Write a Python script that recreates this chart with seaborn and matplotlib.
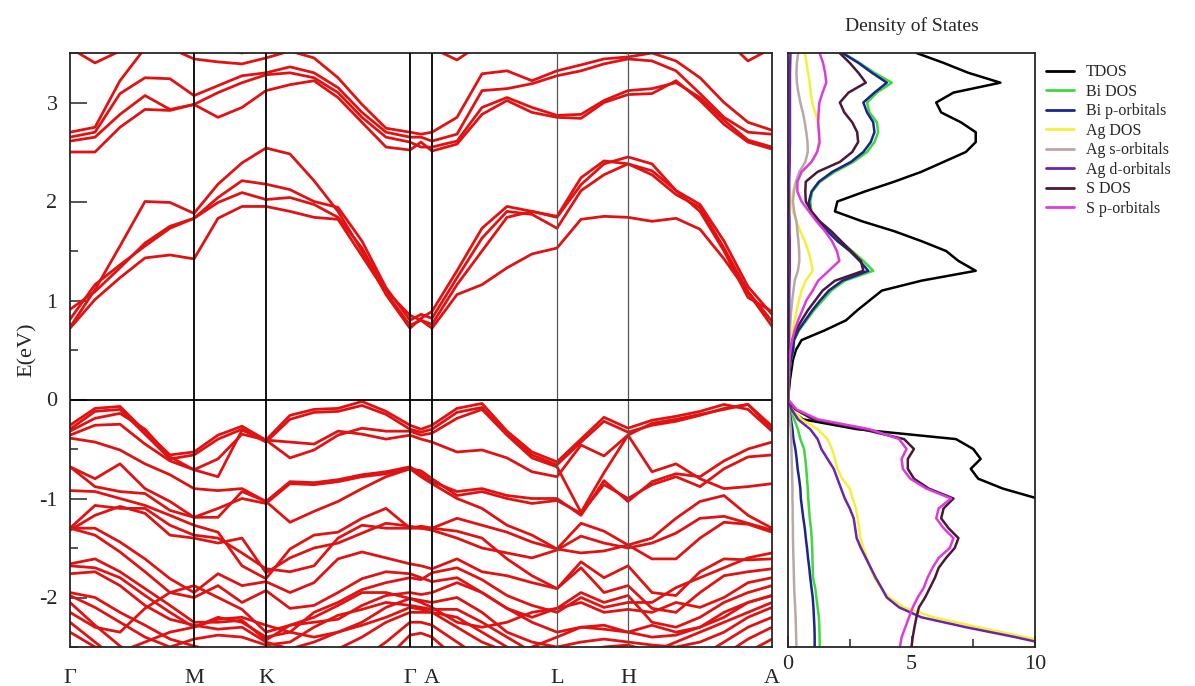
import numpy as np
import pandas as pd
import matplotlib
matplotlib.use("Agg")
import matplotlib.pyplot as plt
from matplotlib.ticker import MultipleLocator
import seaborn as sns

# ---------------- band structure data ----------------
# k-path sample nodes (path length) and high-symmetry points
k_nodes = [0.00, 0.25, 0.50, 0.75, 1.00, 1.24, 1.48, 1.72, 1.96, 2.20, 2.44,
           2.68, 2.92, 3.16, 3.40, 3.51, 3.62, 3.87, 4.12, 4.37, 4.62, 4.87,
           5.11, 5.34, 5.58, 5.82, 6.06, 6.30, 6.54, 6.78, 7.02]
sym_k = [0.00, 1.24, 1.96, 3.40, 3.62, 4.87, 5.58, 7.02]
sym_labels = ["Γ", "M", "K", "Γ", "A", "L", "H", "A"]

# conduction bands (eV)
c1 = [0.72, 1.01, 1.23, 1.43, 1.46, 1.42, 1.83, 1.95, 1.95, 1.90, 1.84, 1.82, 1.45, 1.08, 0.75, 0.80,
      0.72, 1.06, 1.16, 1.33, 1.47, 1.53, 1.82, 1.85, 1.84, 1.80, 1.83, 1.72, 1.42, 1.08, 0.74]
c2 = [0.81, 1.16, 1.36, 1.55, 1.73, 1.83, 1.99, 2.09, 2.02, 2.04, 1.97, 1.84, 1.53, 1.10, 0.85, 0.80,
      0.76, 1.16, 1.50, 1.84, 1.90, 1.84, 2.17, 2.38, 2.45, 2.38, 2.11, 1.97, 1.60, 1.14, 0.86]
c3 = [0.91, 1.09, 1.33, 1.58, 1.75, 1.83, 2.04, 2.21, 2.175, 2.12, 2.00, 1.94, 1.60, 1.13, 0.80, 0.86,
      0.82, 1.23, 1.63, 1.90, 1.87, 1.73, 2.11, 2.27, 2.38, 2.27, 2.07, 1.94, 1.53, 1.09, 0.79]
c4 = [0.73, 1.11, 1.55, 2.00, 1.99, 1.88, 2.175, 2.39, 2.54, 2.48, 2.21, 1.90, 1.50, 1.06, 0.72, 0.82,
      0.89, 1.30, 1.73, 1.95, 1.90, 1.85, 2.24, 2.41, 2.38, 2.31, 2.11, 1.90, 1.50, 1.03, 0.89]
u1 = [2.50, 2.50, 2.75, 2.93, 2.92, 2.98, 2.85, 2.95, 3.12, 3.18, 3.22, 3.05, 2.80, 2.55, 2.52, 2.60,
      2.51, 2.58, 2.88, 3.02, 2.90, 2.85, 2.84, 3.00, 3.08, 3.09, 3.22, 3.02, 2.78, 2.60, 2.53]
u2 = [2.61, 2.65, 2.88, 3.07, 2.93, 2.98, 3.10, 3.20, 3.28, 3.30, 3.25, 3.10, 2.85, 2.65, 2.60, 2.55,
      2.55, 2.61, 2.95, 3.05, 2.95, 2.87, 2.88, 3.02, 3.12, 3.14, 3.20, 3.05, 2.82, 2.62, 2.55]
u3 = [2.65, 2.70, 3.09, 3.25, 3.24, 3.07, 3.17, 3.27, 3.30, 3.36, 3.30, 3.15, 2.90, 2.70, 2.65, 2.65,
      2.61, 2.68, 3.12, 3.14, 3.19, 3.27, 3.32, 3.39, 3.44, 3.42, 3.32, 3.09, 2.85, 2.70, 2.68]
u4 = [2.70, 2.75, 3.22, 3.55, 3.55, 3.44, 3.41, 3.39, 3.45, 3.52, 3.45, 3.25, 2.98, 2.74, 2.70, 2.68,
      2.70, 2.85, 3.29, 3.32, 3.22, 3.32, 3.38, 3.44, 3.46, 3.50, 3.42, 3.25, 3.00, 2.80, 2.72]
u5 = [3.55, 3.40, 3.52, 3.70, 3.70, 3.60, 3.55, 3.50, 3.55, 3.65, 3.70, 3.70, 3.70, 3.70, 3.70, 3.70,
      3.55, 3.43, 3.60, 3.70, 3.70, 3.60, 3.55, 3.52, 3.50, 3.55, 3.65, 3.70, 3.65, 3.42, 3.55]

# valence bands (eV)
v1 = [-0.26, -0.09, -0.07, -0.32, -0.56, -0.53, -0.36, -0.27, -0.41, -0.16, -0.10, -0.09, -0.02, -0.12, -0.26, -0.30,
      -0.26, -0.09, -0.04, -0.32, -0.53, -0.63, -0.40, -0.18, -0.29, -0.21, -0.17, -0.12, -0.05, -0.10, -0.32]
v1b = [-0.30, -0.12, -0.10, -0.35, -0.60, -0.56, -0.40, -0.30, -0.43, -0.20, -0.13, -0.12, -0.06, -0.15, -0.30, -0.33,
       -0.30, -0.13, -0.08, -0.35, -0.56, -0.66, -0.43, -0.22, -0.33, -0.26, -0.22, -0.16, -0.09, -0.05, -0.27]
v2 = [-0.32, -0.19, -0.14, -0.30, -0.58, -0.71, -0.78, -0.31, -0.41, -0.59, -0.51, -0.36, -0.29, -0.32, -0.32, -0.36,
      -0.34, -0.19, -0.10, -0.36, -0.59, -0.68, -1.14, -0.74, -0.36, -0.24, -0.20, -0.15, -0.10, -0.05, -0.30]
v2c = [-0.36, -0.26, -0.25, -0.45, -0.62, -0.71, -0.60, -0.35, -0.41, -0.43, -0.45, -0.32, -0.35, -0.40, -0.36, -0.40,
       -0.43, -0.53, -0.51, -0.59, -0.73, -0.78, -0.46, -0.57, -0.36, -0.73, -0.65, -0.80, -0.90, -0.88, -0.85]
v3 = [-0.39, -0.43, -0.51, -0.65, -0.76, -0.90, -0.92, -0.90, -1.03, -0.83, -0.84, -0.81, -0.76, -0.73, -0.68, -0.75,
      -0.83, -0.93, -0.90, -0.97, -1.00, -1.00, -1.17, -0.82, -1.03, -0.83, -0.75, -0.78, -0.62, -0.50, -0.43]
v3b = [-0.68, -0.88, -0.93, -0.95, -1.12, -1.19, -1.10, -1.00, -1.05, -0.85, -0.86, -0.83, -0.78, -0.75, -0.70, -0.72,
       -0.80, -0.97, -0.93, -1.00, -1.05, -1.02, -1.15, -0.86, -1.00, -0.86, -0.78, -0.88, -0.70, -0.58, -0.56]
v4 = [-0.68, -0.80, -0.65, -0.90, -1.03, -1.19, -1.19, -0.93, -1.03, -1.24, -1.13, -1.03, -0.90, -0.78, -0.70, -0.78,
      -0.85, -1.00, -1.10, -1.27, -1.37, -1.51, -1.25, -1.33, -1.47, -1.40, -1.20, -1.03, -0.97, -1.17, -1.30]
v5 = [-0.92, -0.93, -1.00, -1.07, -1.17, -1.27, -1.34, -1.68, -1.81, -1.51, -1.37, -1.34, -1.20, -1.10, -1.30, -1.30,
      -1.30, -1.20, -1.27, -1.34, -1.44, -1.51, -1.55, -1.53, -1.47, -1.61, -1.61, -1.40, -1.24, -1.26, -1.34]
v5b = [-1.32, -1.17, -1.08, -1.15, -1.37, -1.40, -1.45, -1.40, -1.75, -1.60, -1.50, -1.45, -1.35, -1.25, -1.28, -1.30,
       -1.32, -1.40, -1.50, -1.55, -1.60, -1.52, -1.38, -1.45, -1.50, -1.45, -1.35, -1.20, -1.18, -1.25, -1.32]
v6 = [-1.30, -1.07, -1.10, -1.10, -1.27, -1.37, -1.40, -1.55, -1.71, -1.74, -1.68, -1.40, -1.27, -1.30, -1.30, -1.28,
      -1.30, -1.33, -1.40, -1.61, -1.78, -1.91, -1.64, -1.80, -1.68, -1.95, -1.98, -1.74, -1.61, -1.62, -1.61]
v7 = [-1.30, -1.30, -1.44, -1.61, -1.81, -1.95, -1.76, -1.88, -1.84, -1.95, -1.85, -1.61, -1.54, -1.60, -1.66, -1.68,
      -1.71, -1.61, -1.74, -1.78, -1.85, -1.91, -1.70, -1.95, -1.88, -2.11, -2.15, -1.95, -1.78, -1.74, -1.71]
v7b = [-1.68, -1.70, -1.80, -1.98, -2.15, -2.30, -2.20, -2.25, -2.40, -2.35, -2.15, -2.05, -1.92, -1.85, -1.80, -1.82,
       -1.75, -1.70, -1.82, -1.98, -2.08, -2.15, -2.00, -2.10, -2.05, -2.05, -1.90, -1.80, -1.70, -1.60, -1.55]
v8 = [-1.30, -1.37, -1.54, -1.74, -1.95, -2.00, -1.88, -2.05, -1.93, -2.11, -2.08, -1.95, -1.81, -1.74, -1.76, -1.80,
      -1.84, -1.80, -1.95, -2.11, -2.20, -2.11, -1.95, -2.05, -1.98, -2.25, -2.30, -2.20, -2.05, -1.95, -1.88]
v9 = [-1.66, -1.61, -1.74, -1.91, -2.08, -2.25, -2.25, -2.23, -2.43, -2.28, -2.25, -2.22, -2.08, -1.98, -1.95, -1.97,
      -1.95, -1.85, -1.95, -2.11, -2.25, -2.35, -2.30, -2.32, -2.35, -2.28, -2.35, -2.30, -2.15, -2.05, -1.98]
v9b = [-1.98, -2.10, -2.25, -2.40, -2.50, -2.42, -2.38, -2.40, -2.48, -2.45, -2.30, -2.18, -2.12, -2.05, -2.08, -2.10,
       -2.12, -2.12, -2.25, -2.40, -2.55, -2.58, -2.55, -2.50, -2.48, -2.55, -2.45, -2.35, -2.25, -2.15, -2.05]
v10 = [-1.76, -1.74, -1.88, -2.08, -2.22, -2.28, -2.32, -2.30, -2.45, -2.52, -2.45, -2.35, -2.25, -2.10, -2.01, -2.03,
       -2.05, -2.00, -2.15, -2.35, -2.45, -2.50, -2.45, -2.42, -2.45, -2.48, -2.50, -2.45, -2.35, -2.20, -2.10]
v11 = [-1.95, -2.00, -2.15, -2.28, -2.42, -2.49, -2.55, -2.58, -2.60, -2.60, -2.58, -2.52, -2.40, -2.25, -2.15, -2.15,
       -2.15, -2.20, -2.35, -2.50, -2.60, -2.62, -2.62, -2.62, -2.62, -2.62, -2.62, -2.60, -2.45, -2.30, -2.20]
v12 = [-2.05, -2.28, -2.49, -2.65, -2.70, -2.70, -2.70, -2.70, -2.70, -2.70, -2.70, -2.70, -2.62, -2.45, -2.25, -2.25,
       -2.28, -2.45, -2.62, -2.70, -2.70, -2.70, -2.70, -2.70, -2.70, -2.70, -2.70, -2.68, -2.58, -2.42, -2.30]
v13 = [-2.25, -2.45, -2.65, -2.75, -2.75, -2.75, -2.75, -2.75, -2.75, -2.75, -2.75, -2.75, -2.75, -2.62, -2.38, -2.36,
       -2.40, -2.62, -2.75, -2.75, -2.75, -2.75, -2.75, -2.75, -2.75, -2.75, -2.75, -2.75, -2.70, -2.55, -2.42]
v14 = [-2.15, -2.30, -2.35, -2.11, -1.95, -1.88, -2.00, -2.12, -2.35, -2.28, -2.20, -2.08, -1.95, -1.95, -2.01, -2.05,
       -2.10, -2.25, -2.30, -2.25, -2.15, -2.11, -2.05, -2.15, -2.12, -2.15, -2.05, -2.10, -2.00, -1.85, -1.80]
v15 = [-2.35, -2.50, -2.55, -2.45, -2.35, -2.30, -2.22, -2.20, -2.28, -2.35, -2.40, -2.35, -2.28, -2.20, -2.10, -2.12,
       -2.15, -2.30, -2.45, -2.55, -2.50, -2.40, -2.30, -2.28, -2.35, -2.40, -2.38, -2.30, -2.20, -2.05, -1.98]

bands = [c1, c2, c3, c4, u1, u2, u3, u4, u5,
         v1, v1b, v2, v2c, v3, v3b, v4, v5, v5b, v6, v7, v7b, v8, v9, v9b,
         v10, v11, v12, v13, v14, v15]

# ---------------- density of states data ----------------
dos_energy = np.round(np.linspace(3.5, -2.5, 61), 2)
dos_names = ["TDOS", "Bi DOS", "Bi p-orbitals", "Ag DOS", "Ag s-orbitals",
             "Ag d-orbitals", "S DOS", "S p-orbitals"]
dos_colors = ["#000000", "#3cd83c", "#1c2490", "#f4f03a", "#b9a8a6",
              "#6c24a8", "#4a1838", "#dc3cdc"]

tdos = [5.2, 6.3, 7.3, 8.6, 6.7, 6.0, 6.2, 7.0, 7.6, 7.6, 7.2, 6.3, 5.4, 4.3, 3.1, 2.0, 1.9, 3.0,
        4.3, 5.4, 6.4, 6.9, 7.6, 5.4, 3.8, 3.3, 2.8, 2.35, 1.5, 0.55, 0.32, 0.2, 0.14, 0.08, 0.04, 0.0,
        0.1, 0.6, 2.8, 6.8, 7.5, 7.8, 7.4, 7.7, 8.7, 10.1] + [np.nan] * 15
bi_dos = [2.23, 2.9, 3.5, 4.2, 3.6, 3.2, 3.3, 3.6, 3.65, 3.5, 3.2, 2.65, 1.9, 1.3, 0.98, 0.9, 0.95, 1.28,
          1.7, 2.09, 2.6, 3.05, 3.45, 2.3, 1.75, 1.4, 1.05, 0.75, 0.45, 0.25, 0.22, 0.12, 0.07, 0.04, 0.02, 0.0,
          0.05, 0.25, 0.4, 0.5, 0.65, 0.7, 0.74, 0.77, 0.8, 0.82, 0.85, 0.88, 0.93, 0.96, 0.98, 0.99, 1.0,
          1.01, 1.1, 1.15, 1.2, 1.25, 1.27, 1.28, 1.28]
bi_p = [2.2, 2.85, 3.4, 4.0, 3.5, 3.05, 3.2, 3.45, 3.5, 3.35, 3.05, 2.55, 1.8, 1.25, 0.95, 0.85, 0.9, 1.2,
        1.6, 2.0, 2.5, 2.9, 3.25, 2.2, 1.65, 1.3, 0.98, 0.7, 0.42, 0.24, 0.2, 0.11, 0.06, 0.03, 0.02, 0.0,
        0.03, 0.12, 0.18, 0.22, 0.3, 0.35, 0.39, 0.45, 0.5, 0.52, 0.57, 0.62, 0.68, 0.72, 0.77, 0.81, 0.86,
        0.9, 0.95, 1.0, 1.03, 1.05, 1.07, 1.08, 1.08]
ag_dos = [0.68, 0.75, 0.81, 0.88, 0.92, 0.98, 1.1, 1.22, 1.27, 1.25, 1.18, 0.95, 0.58, 0.32, 0.2, 0.15, 0.2,
          0.34, 0.5, 0.68, 0.82, 0.93, 1.0, 0.72, 0.55, 0.44, 0.35, 0.27, 0.19, 0.13, 0.08, 0.05, 0.03, 0.02,
          0.01, 0.0,
          0.2, 0.55, 1.2, 1.6, 1.78, 1.9, 2.0, 2.2, 2.5, 2.62, 2.75, 2.82, 2.88, 2.93, 3.05, 3.2, 3.33, 3.5,
          3.75, 4.1, 4.7, 5.9, 7.7, 9.6, 11.5]
ag_s = [0.41, 0.36, 0.34, 0.36, 0.42, 0.5, 0.6, 0.68, 0.74, 0.79, 0.8, 0.7, 0.46, 0.32, 0.24, 0.2, 0.25,
        0.34, 0.38, 0.42, 0.45, 0.46, 0.4, 0.27, 0.22, 0.17, 0.13, 0.1, 0.08, 0.06, 0.04, 0.03, 0.02, 0.01,
        0.0, 0.0,
        0.03, 0.08, 0.11, 0.13, 0.14, 0.15, 0.16, 0.17, 0.18, 0.18, 0.19, 0.19, 0.2, 0.2, 0.21, 0.22, 0.23,
        0.24, 0.25, 0.27, 0.29, 0.31, 0.32, 0.33, 0.34]
ag_d = [0.1, 0.09, 0.08, 0.08, 0.08, 0.08, 0.08, 0.08, 0.08, 0.08, 0.07, 0.07, 0.06, 0.05, 0.05, 0.05, 0.05,
        0.06, 0.06, 0.07, 0.07, 0.07, 0.07, 0.06, 0.05, 0.05, 0.04, 0.04, 0.03, 0.03, 0.02, 0.02, 0.01, 0.01,
        0.0, 0.0,
        0.15, 0.4, 0.9, 1.2, 1.35, 1.6, 1.85, 2.0, 2.15, 2.3, 2.5, 2.66, 2.72, 2.78, 2.95, 3.15, 3.35, 3.55,
        3.78, 4.0, 4.5, 5.4, 7.2, 9.2, 11.0]
s_dos = [2.09, 2.5, 2.85, 3.15, 2.45, 2.1, 2.28, 2.6, 2.8, 2.84, 2.6, 2.1, 1.2, 0.72, 0.7, 0.72, 0.95,
         1.28, 1.75, 2.15, 2.55, 2.95, 3.05, 1.9, 1.4, 1.1, 0.8, 0.55, 0.32, 0.18, 0.1, 0.06, 0.04, 0.02,
         0.01, 0.0,
         0.3, 1.0, 3.0, 4.7, 5.1, 4.85, 4.85, 5.1, 5.7, 6.7, 6.3, 6.2, 6.5, 6.9, 6.75, 6.4, 6.1, 5.95, 5.75,
         5.55, 5.3, 5.2, 5.12, 5.05, 5.0]
s_p = [1.28, 1.42, 1.5, 1.55, 1.4, 1.27, 1.24, 1.22, 1.25, 1.28, 1.18, 0.95, 0.55, 0.38, 0.38, 0.55, 0.85,
       1.15, 1.5, 1.78, 1.98, 2.08, 1.65, 1.22, 1.0, 0.74, 0.58, 0.41, 0.27, 0.17, 0.1, 0.06, 0.04, 0.02,
       0.01, 0.0,
       0.35, 1.2, 3.3, 4.5, 4.8, 4.6, 4.65, 4.95, 5.6, 6.6, 6.1, 6.0, 6.3, 6.7, 6.55, 6.1, 5.85, 5.65, 5.5,
       5.25, 5.05, 4.9, 4.75, 4.6, 4.53]

dos_series = [tdos, bi_dos, bi_p, ag_dos, ag_s, ag_d, s_dos, s_p]

# ---------------- tidy frames ----------------
band_df = pd.DataFrame(
    [(i, k, e) for i, vals in enumerate(bands) for k, e in zip(k_nodes, vals)],
    columns=["band", "k", "E"])
dos_df = pd.DataFrame(
    [(name, e, d) for name, vals in zip(dos_names, dos_series)
     for e, d in zip(dos_energy, vals)],
    columns=["orbital", "E", "dos"]).dropna()

# ---------------- styling ----------------
sns.set_style("ticks")
plt.rcParams["font.family"] = ["Liberation Serif", "DejaVu Serif"]
plt.rcParams["axes.unicode_minus"] = False

W, H = 1195, 686
fig = plt.figure(figsize=(W / 100, H / 100), dpi=100)
ax_b = fig.add_axes([70 / W, 39 / H, 702 / W, 594 / H])
ax_d = fig.add_axes([788 / W, 39 / H, 247 / W, 594 / H])

# band structure
sns.lineplot(data=band_df, x="k", y="E", units="band", estimator=None, sort=False,
             color="#e01212", linewidth=2.0, legend=False, ax=ax_b)
for kx, lab in zip(sym_k[1:-1], sym_labels[1:-1]):
    light = lab in ("L", "H")
    ax_b.axvline(kx, color="#555555" if light else "black",
                 lw=0.9 if light else 1.3, zorder=3)
ax_b.axhline(0.0, color="black", lw=1.3, zorder=3)
ax_b.set_xlim(sym_k[0], sym_k[-1])
ax_b.set_ylim(-2.5, 3.5)
ax_b.set_xticks(sym_k)
ax_b.set_xticklabels(sym_labels, fontsize=16)
ax_b.tick_params(axis="x", length=0, pad=16)
ax_b.yaxis.set_major_locator(MultipleLocator(1))
ax_b.yaxis.set_minor_locator(MultipleLocator(0.5))
ax_b.tick_params(axis="y", which="major", direction="in", length=12, width=1.1,
                 labelsize=16, pad=9)
ax_b.tick_params(axis="y", which="minor", direction="in", length=6, width=1.1)
ax_b.set_xlabel("")
ax_b.set_ylabel("E(eV)", fontsize=16)
ax_b.yaxis.set_label_coords(-33 / 702, 0.50)
for sp in ax_b.spines.values():
    sp.set_linewidth(1.3)

# density of states
sns.lineplot(data=dos_df, x="dos", y="E", hue="orbital", hue_order=dos_names,
             palette=dos_colors, estimator=None, sort=False, linewidth=1.8, ax=ax_d)
ax_d.set_xlim(0, 10)
ax_d.set_ylim(-2.5, 3.5)
ax_d.set_yticks([])
ax_d.set_xticks([0, 5, 10])
ax_d.xaxis.set_minor_locator(MultipleLocator(2.5))
ax_d.tick_params(axis="x", which="major", direction="in", length=8, width=1.1,
                 labelsize=16, pad=6)
ax_d.tick_params(axis="x", which="minor", direction="in", length=6, width=1.1)
ax_d.set_xlabel("")
ax_d.set_ylabel("")
ax_d.set_title("Density of States", fontsize=14, pad=16)
for sp in ax_d.spines.values():
    sp.set_linewidth(1.3)

handles, labels = ax_d.get_legend_handles_labels()
ax_d.get_legend().remove()
for h in handles:
    h.set_linewidth(2.0)
fig.legend(handles, labels, loc="upper left", bbox_to_anchor=(1040 / W, 1 - 58 / H),
           frameon=False, fontsize=11.5, handlelength=1.7, handletextpad=0.75,
           labelspacing=0.22, borderaxespad=0)

fig.savefig("out.png", dpi=100)
